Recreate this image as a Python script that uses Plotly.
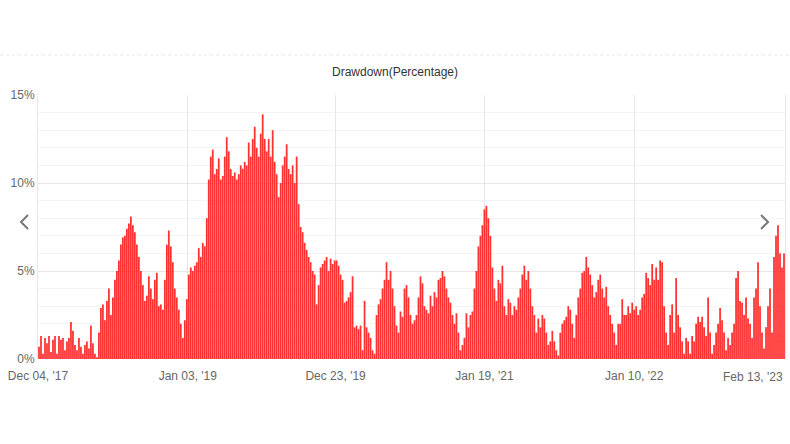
import plotly.graph_objects as go

# Drawdown (%) values, read left-to-right from the reference (Dec 2017 -> Feb 2023)
seg_2018 = [0.7, 1.3, 0.3, 1.2, 0.9, 1.3, 0.4, 1.1, 1.3,
            0.3, 1.3, 1.1, 1.2, 0.5, 1.0, 1.2,
            2.1, 1.6, 0.8,
            0.5, 1.2, 0.7,
            0.3, 0.8, 1.0, 0.6, 1.9, 0.9,
            0.3, 0.1,
            1.5, 2.9, 3.1, 2.2, 3.3,
            4.0, 2.5, 3.5, 4.5,
            5.0, 5.6, 6.5, 6.9, 7.0, 7.4, 7.7, 8.1, 7.6,
            7.2, 6.5, 5.8, 5.0, 4.2, 3.3,
            3.6, 4.7, 4.0, 3.4, 4.5, 4.9, 3.0,
            3.1, 2.8,
            4.5, 6.5, 7.3, 6.4, 5.5,
            4.0, 3.5, 2.8, 2.0, 1.2, 2.2]
seg_2019 = [3.4, 4.8,
            5.2, 5.0, 5.3,
            5.5, 6.3, 5.8, 6.6, 6.4,
            8.0, 10.2, 11.5, 11.9,
            10.5, 10.8, 11.4, 10.2,
            10.4, 11.5, 12.6, 11.8,
            10.8, 10.4, 10.6, 10.2, 10.5,
            11.0, 10.8, 11.2, 11.0, 12.3,
            11.5, 12.5, 13.2,
            12.0, 11.5, 12.8, 13.9, 12.5,
            11.8, 12.5, 11.5, 13.0, 11.2,
            10.5, 9.2, 10.0,
            11.0, 11.5, 12.2, 10.8,
            10.5, 11.0, 10.0, 11.5,
            8.8, 7.5, 7.2,
            6.6, 6.2, 5.8,
            5.5, 5.0, 4.8, 3.1,
            4.2, 5.2, 5.4,
            5.6, 5.8, 5.0, 5.7, 5.4, 5.6]
seg_2020 = [5.6, 5.3, 4.8,
            4.5, 3.2,
            3.3, 3.5, 3.8, 4.7,
            1.8, 1.9, 1.7, 1.9,
            0.5, 3.3,
            1.8, 1.5, 1.2, 0.5,
            0.3,
            2.5, 3.1, 3.4, 4.0,
            4.5, 5.5, 4.5, 5.0, 4.0,
            3.0, 1.9,
            1.5, 2.7, 2.4,
            4.0, 4.2, 3.5,
            2.5, 2.0, 2.2, 2.5,
            3.5, 4.7, 4.3,
            3.0, 2.8, 2.6, 3.6, 3.0, 3.8,
            3.5, 4.5, 4.6, 5.0, 4.7,
            4.0, 3.5, 3.2, 2.5, 2.0,
            2.6, 1.5, 0.5,
            0.8, 1.2, 2.6,
            1.8, 2.5, 2.7,
            4.0, 5.0, 6.4,
            7.0, 7.6, 8.5]
seg_2021 = [8.7, 8.0,
            7.0, 5.2,
            4.0, 3.3,
            4.5, 4.3, 5.3,
            3.0, 2.5, 3.4, 3.2,
            2.5, 3.0, 2.8,
            3.5, 4.0, 4.8,
            5.3, 4.5, 5.0,
            4.0, 3.0,
            2.5, 1.5, 2.3, 1.8,
            2.5, 2.3, 1.5,
            0.8, 1.0, 1.6, 1.0,
            0.5, 0.2,
            1.5, 2.0, 2.2,
            2.4, 3.0, 2.8, 2.0,
            1.2, 2.5,
            3.5, 4.0, 4.9,
            5.0, 5.8, 5.2,
            4.8, 4.2, 3.5,
            3.8, 4.5, 4.8, 4.0,
            3.5, 4.1, 3.0,
            2.5, 2.0, 1.5,
            0.8, 2.0,
            2.0, 3.4, 2.5,
            2.5, 3.0, 2.6, 3.2, 2.8]
seg_2022 = [3.0, 2.5, 2.8,
            3.5, 3.7,
            4.9, 4.6, 4.2,
            5.4, 4.5, 5.2,
            4.5, 5.6, 5.5,
            3.0, 1.5,
            0.8, 2.5, 3.1,
            1.5,
            4.6, 2.5,
            1.8, 1.0,
            0.3, 1.2, 1.0,
            0.3, 1.3,
            1.0, 2.0, 2.4,
            2.1, 2.4, 1.8,
            1.3, 3.5, 1.5,
            0.3, 0.8,
            1.5, 2.0, 2.9,
            2.2, 1.5,
            0.5, 1.2, 0.8,
            1.5, 2.0,
            4.6, 5.0, 3.3,
            3.2, 2.5, 3.5,
            2.3, 2.0, 1.2,
            3.5, 4.0, 5.5,
            3.0, 1.5, 0.6, 1.8,
            3.0, 4.0, 1.5,
            5.8, 7.0, 7.6,
            6.0, 5.2, 6.0]

drawdown = seg_2018 + seg_2019 + seg_2020 + seg_2021 + seg_2022
n = len(drawdown)
idx = list(range(n))

tick_labels = ["Dec 04, '17", "Jan 03, '19", "Dec 23, '19", "Jan 19, '21", "Jan 10, '22"]
last_label = "Feb 13, '23"
tick_fracs = [0.0, 150 / 748, 298 / 748, 447 / 748, 597 / 748]
tick_vals = [f * n - 0.5 for f in tick_fracs] + [n - 0.5]

FONT = "Liberation Sans, Arial, sans-serif"

fig = go.Figure(go.Bar(
    x=idx, y=drawdown,
    marker=dict(color="rgba(255,20,20,0.88)", line=dict(width=0)),
    hoverinfo="y",
))

fig.update_layout(
    width=790, height=444,
    margin=dict(l=38, r=5, t=95, b=85),
    paper_bgcolor="white", plot_bgcolor="white",
    bargap=0.12,
    showlegend=False,
    font=dict(family=FONT, size=12, color="#666666"),
    title=dict(text="Drawdown(Percentage)", x=0.5, xanchor="center",
               y=1 - 72 / 444, yanchor="middle",
               font=dict(family=FONT, size=12, color="#333333")),
)

fig.update_xaxes(
    range=[-0.5, n - 0.5],
    tickmode="array", tickvals=tick_vals, ticktext=tick_labels + [""],
    showgrid=True, gridcolor="#e6e6e6", gridwidth=1,
    ticks="outside", ticklen=6, tickcolor="rgba(0,0,0,0)",
    zeroline=False, showline=False,
    tickfont=dict(family=FONT, size=12, color="#666666"),
)
fig.update_yaxes(
    range=[0, 15], tickmode="linear", tick0=0, dtick=5, ticksuffix="%",
    showgrid=True, gridcolor="#e6e6e6", gridwidth=1,
    minor=dict(dtick=1, showgrid=True, gridcolor="#f4f4f4"),
    zeroline=False, showline=True, linecolor="#e6e6e6", linewidth=1, mirror=True,
    ticks="",
    tickfont=dict(family=FONT, size=12, color="#666666"),
)

fig.add_annotation(text=last_label, xref="paper", yref="paper",
                   x=1.0, y=-18 / 264, xanchor="right", yanchor="middle",
                   showarrow=False, font=dict(family=FONT, size=12, color="#666666"))

# faint dotted top border of the chart container
fig.add_shape(type="line", xref="paper", yref="paper",
              x0=-38 / 748, x1=1 + 5 / 748, y0=(359 - 55) / 264, y1=(359 - 55) / 264,
              line=dict(color="#e8e8e8", width=1, dash="dot"))

# navigation chevrons
def px(xp):
    return (xp - 38) / 748

def py(yp):
    return (359 - yp) / 264

fig.add_shape(type="path", xref="paper", yref="paper",
              path=f"M {px(28)},{py(215)} L {px(21)},{py(222)} L {px(28)},{py(229)}",
              line=dict(color="#777777", width=2))
fig.add_shape(type="path", xref="paper", yref="paper",
              path=f"M {px(762)},{py(215)} L {px(769)},{py(222)} L {px(762)},{py(229)}",
              line=dict(color="#777777", width=2))

fig.write_html("out.html")
